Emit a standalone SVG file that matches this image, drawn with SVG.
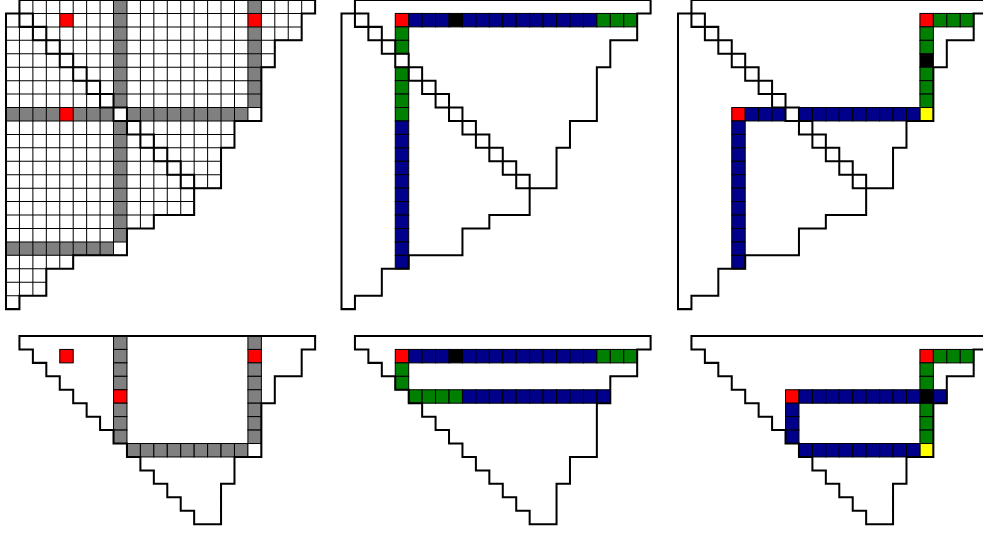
<svg xmlns="http://www.w3.org/2000/svg" xmlns:xlink="http://www.w3.org/1999/xlink" width="983" height="533" viewBox="0 0 983 533">
<style>
.bg{fill:#fff;stroke:none}
.thick{fill:none;stroke:#000;stroke-width:0.15;stroke-linejoin:miter}
.thin{fill:none;stroke:#000;stroke-width:0.075}
.c{stroke:#000;stroke-width:0.075}
.g{fill:#808080}.r{fill:#ff0000}.b{fill:#00008b}.k{fill:#000}.n{fill:#008000}.y{fill:#ffff00}.w{fill:#fff}
</style>
<defs>
<path id="shape" d="M1 0H23V1H22V3H20V5H19V9H17V11H16V14H14V16H11V17H9V19H5V20H3V22H1V23H0V1H1Z"/>
<path id="region" d="M1 0H23V1H22V3H20V5H19V9H17V11H16V14H14V13H13V12H12V11H11V10H10V9H9V8H8V7H7V6H6V5H5V4H4V3H3V2H2V1H1Z"/>
<path id="diag" d="M1 1h1v1h-1z M2 2h1v1h-1z M3 3h1v1h-1z M4 4h1v1h-1z M5 5h1v1h-1z M6 6h1v1h-1z M7 7h1v1h-1z M8 8h1v1h-1z M9 9h1v1h-1z M10 10h1v1h-1z M11 11h1v1h-1z M12 12h1v1h-1z M13 13h1v1h-1z"/>
<path id="grid" d="M0 1H23M0 2H23M0 3H23M0 4H23M0 5H23M0 6H23M0 7H23M0 8H23M0 9H23M0 10H23M0 11H23M0 12H23M0 13H23M0 14H23M0 15H23M0 16H23M0 17H23M0 18H23M0 19H23M0 20H23M0 21H23M0 22H23M1 0V23M2 0V23M3 0V23M4 0V23M5 0V23M6 0V23M7 0V23M8 0V23M9 0V23M10 0V23M11 0V23M12 0V23M13 0V23M14 0V23M15 0V23M16 0V23M17 0V23M18 0V23M19 0V23M20 0V23M21 0V23M22 0V23"/>
<clipPath id="clipShape" clipPathUnits="userSpaceOnUse"><path d="M1 0H23V1H22V3H20V5H19V9H17V11H16V14H14V16H11V17H9V19H5V20H3V22H1V23H0V1H1Z"/></clipPath>
<rect id="u" width="1" height="1"/>
</defs>

<!-- Panel A: full grid -->
<g id="panel-a" transform="translate(6 0) scale(13.44)">
<use href="#shape" class="bg"/>
<g class="g">
<rect x="8" y="0" width="1" height="8"/><rect x="8" y="9" width="1" height="9"/>
<rect x="0" y="8" width="8" height="1"/><rect x="9" y="8" width="9" height="1"/>
<rect x="18" y="0" width="1" height="8"/><rect x="0" y="18" width="8" height="1"/>
</g>
<g class="r">
<rect x="4" y="1" width="1" height="1"/><rect x="4" y="8" width="1" height="1"/><rect x="18" y="1" width="1" height="1"/>
</g>
<use href="#grid" class="thin" clip-path="url(#clipShape)"/>
<use href="#diag" class="thick"/>
<use href="#shape" class="thick"/>
</g>

<!-- Panel B -->
<g id="panel-b" transform="translate(341.5 0) scale(13.44)">
<use href="#shape" class="bg"/>
<use href="#u" x="4" y="1" class="c r"/>
<use href="#u" x="5" y="1" class="c b"/><use href="#u" x="6" y="1" class="c b"/><use href="#u" x="7" y="1" class="c b"/>
<use href="#u" x="8" y="1" class="c k"/>
<use href="#u" x="9" y="1" class="c b"/><use href="#u" x="10" y="1" class="c b"/><use href="#u" x="11" y="1" class="c b"/><use href="#u" x="12" y="1" class="c b"/><use href="#u" x="13" y="1" class="c b"/><use href="#u" x="14" y="1" class="c b"/><use href="#u" x="15" y="1" class="c b"/><use href="#u" x="16" y="1" class="c b"/><use href="#u" x="17" y="1" class="c b"/><use href="#u" x="18" y="1" class="c b"/>
<use href="#u" x="19" y="1" class="c n"/><use href="#u" x="20" y="1" class="c n"/><use href="#u" x="21" y="1" class="c n"/>
<use href="#u" x="4" y="2" class="c n"/><use href="#u" x="4" y="3" class="c n"/>
<use href="#u" x="4" y="5" class="c n"/><use href="#u" x="4" y="6" class="c n"/><use href="#u" x="4" y="7" class="c n"/><use href="#u" x="4" y="8" class="c n"/>
<use href="#u" x="4" y="9" class="c b"/><use href="#u" x="4" y="10" class="c b"/><use href="#u" x="4" y="11" class="c b"/><use href="#u" x="4" y="12" class="c b"/><use href="#u" x="4" y="13" class="c b"/><use href="#u" x="4" y="14" class="c b"/><use href="#u" x="4" y="15" class="c b"/><use href="#u" x="4" y="16" class="c b"/><use href="#u" x="4" y="17" class="c b"/><use href="#u" x="4" y="18" class="c b"/><use href="#u" x="4" y="19" class="c b"/>
<use href="#diag" class="thick"/>
<use href="#shape" class="thick"/>
</g>

<!-- Panel C -->
<g id="panel-c" transform="translate(678 0) scale(13.44)">
<use href="#shape" class="bg"/>
<use href="#u" x="18" y="1" class="c r"/>
<use href="#u" x="19" y="1" class="c n"/><use href="#u" x="20" y="1" class="c n"/><use href="#u" x="21" y="1" class="c n"/>
<use href="#u" x="18" y="2" class="c n"/><use href="#u" x="18" y="3" class="c n"/>
<use href="#u" x="18" y="4" class="c k"/>
<use href="#u" x="18" y="5" class="c n"/><use href="#u" x="18" y="6" class="c n"/><use href="#u" x="18" y="7" class="c n"/>
<use href="#u" x="18" y="8" class="c y"/>
<use href="#u" x="4" y="8" class="c r"/>
<use href="#u" x="5" y="8" class="c b"/><use href="#u" x="6" y="8" class="c b"/><use href="#u" x="7" y="8" class="c b"/>
<use href="#u" x="9" y="8" class="c b"/><use href="#u" x="10" y="8" class="c b"/><use href="#u" x="11" y="8" class="c b"/><use href="#u" x="12" y="8" class="c b"/><use href="#u" x="13" y="8" class="c b"/><use href="#u" x="14" y="8" class="c b"/><use href="#u" x="15" y="8" class="c b"/><use href="#u" x="16" y="8" class="c b"/><use href="#u" x="17" y="8" class="c b"/>
<use href="#u" x="4" y="9" class="c b"/><use href="#u" x="4" y="10" class="c b"/><use href="#u" x="4" y="11" class="c b"/><use href="#u" x="4" y="12" class="c b"/><use href="#u" x="4" y="13" class="c b"/><use href="#u" x="4" y="14" class="c b"/><use href="#u" x="4" y="15" class="c b"/><use href="#u" x="4" y="16" class="c b"/><use href="#u" x="4" y="17" class="c b"/><use href="#u" x="4" y="18" class="c b"/><use href="#u" x="4" y="19" class="c b"/>
<use href="#diag" class="thick"/>
<use href="#shape" class="thick"/>
</g>

<!-- Panel D -->
<g id="panel-d" transform="translate(6 336) scale(13.44)">
<use href="#region" class="bg"/>
<use href="#u" x="8" y="0" class="c g"/><use href="#u" x="8" y="1" class="c g"/><use href="#u" x="8" y="2" class="c g"/><use href="#u" x="8" y="3" class="c g"/><use href="#u" x="8" y="4" class="c r"/><use href="#u" x="8" y="5" class="c g"/><use href="#u" x="8" y="6" class="c g"/><use href="#u" x="8" y="7" class="c g"/>
<use href="#u" x="18" y="0" class="c g"/><use href="#u" x="18" y="1" class="c r"/><use href="#u" x="18" y="2" class="c g"/><use href="#u" x="18" y="3" class="c g"/><use href="#u" x="18" y="4" class="c g"/><use href="#u" x="18" y="5" class="c g"/><use href="#u" x="18" y="6" class="c g"/><use href="#u" x="18" y="7" class="c g"/>
<use href="#u" x="9" y="8" class="c g"/><use href="#u" x="10" y="8" class="c g"/><use href="#u" x="11" y="8" class="c g"/><use href="#u" x="12" y="8" class="c g"/><use href="#u" x="13" y="8" class="c g"/><use href="#u" x="14" y="8" class="c g"/><use href="#u" x="15" y="8" class="c g"/><use href="#u" x="16" y="8" class="c g"/><use href="#u" x="17" y="8" class="c g"/>
<use href="#u" x="18" y="8" class="c w"/>
<use href="#u" x="4" y="1" class="c r"/>
<use href="#region" class="thick"/>
</g>

<!-- Panel E -->
<g id="panel-e" transform="translate(341.5 336) scale(13.44)">
<use href="#region" class="bg"/>
<use href="#u" x="4" y="1" class="c r"/>
<use href="#u" x="5" y="1" class="c b"/><use href="#u" x="6" y="1" class="c b"/><use href="#u" x="7" y="1" class="c b"/>
<use href="#u" x="8" y="1" class="c k"/>
<use href="#u" x="9" y="1" class="c b"/><use href="#u" x="10" y="1" class="c b"/><use href="#u" x="11" y="1" class="c b"/><use href="#u" x="12" y="1" class="c b"/><use href="#u" x="13" y="1" class="c b"/><use href="#u" x="14" y="1" class="c b"/><use href="#u" x="15" y="1" class="c b"/><use href="#u" x="16" y="1" class="c b"/><use href="#u" x="17" y="1" class="c b"/><use href="#u" x="18" y="1" class="c b"/>
<use href="#u" x="19" y="1" class="c n"/><use href="#u" x="20" y="1" class="c n"/><use href="#u" x="21" y="1" class="c n"/>
<use href="#u" x="4" y="2" class="c n"/><use href="#u" x="4" y="3" class="c n"/>
<use href="#u" x="5" y="4" class="c n"/><use href="#u" x="6" y="4" class="c n"/><use href="#u" x="7" y="4" class="c n"/><use href="#u" x="8" y="4" class="c n"/>
<use href="#u" x="9" y="4" class="c b"/><use href="#u" x="10" y="4" class="c b"/><use href="#u" x="11" y="4" class="c b"/><use href="#u" x="12" y="4" class="c b"/><use href="#u" x="13" y="4" class="c b"/><use href="#u" x="14" y="4" class="c b"/><use href="#u" x="15" y="4" class="c b"/><use href="#u" x="16" y="4" class="c b"/><use href="#u" x="17" y="4" class="c b"/><use href="#u" x="18" y="4" class="c b"/><use href="#u" x="19" y="4" class="c b"/>
<use href="#region" class="thick"/>
</g>

<!-- Panel F -->
<g id="panel-f" transform="translate(678 336) scale(13.44)">
<use href="#region" class="bg"/>
<use href="#u" x="18" y="1" class="c r"/>
<use href="#u" x="19" y="1" class="c n"/><use href="#u" x="20" y="1" class="c n"/><use href="#u" x="21" y="1" class="c n"/>
<use href="#u" x="18" y="2" class="c n"/><use href="#u" x="18" y="3" class="c n"/>
<use href="#u" x="18" y="5" class="c n"/><use href="#u" x="18" y="6" class="c n"/><use href="#u" x="18" y="7" class="c n"/>
<use href="#u" x="18" y="8" class="c y"/>
<use href="#u" x="8" y="4" class="c r"/>
<use href="#u" x="9" y="4" class="c b"/><use href="#u" x="10" y="4" class="c b"/><use href="#u" x="11" y="4" class="c b"/><use href="#u" x="12" y="4" class="c b"/><use href="#u" x="13" y="4" class="c b"/><use href="#u" x="14" y="4" class="c b"/><use href="#u" x="15" y="4" class="c b"/><use href="#u" x="16" y="4" class="c b"/><use href="#u" x="17" y="4" class="c b"/>
<use href="#u" x="18" y="4" class="c k"/>
<use href="#u" x="19" y="4" class="c b"/>
<use href="#u" x="8" y="5" class="c b"/><use href="#u" x="8" y="6" class="c b"/><use href="#u" x="8" y="7" class="c b"/>
<use href="#u" x="9" y="8" class="c b"/><use href="#u" x="10" y="8" class="c b"/><use href="#u" x="11" y="8" class="c b"/><use href="#u" x="12" y="8" class="c b"/><use href="#u" x="13" y="8" class="c b"/><use href="#u" x="14" y="8" class="c b"/><use href="#u" x="15" y="8" class="c b"/><use href="#u" x="16" y="8" class="c b"/><use href="#u" x="17" y="8" class="c b"/>
<use href="#region" class="thick"/>
</g>
</svg>
